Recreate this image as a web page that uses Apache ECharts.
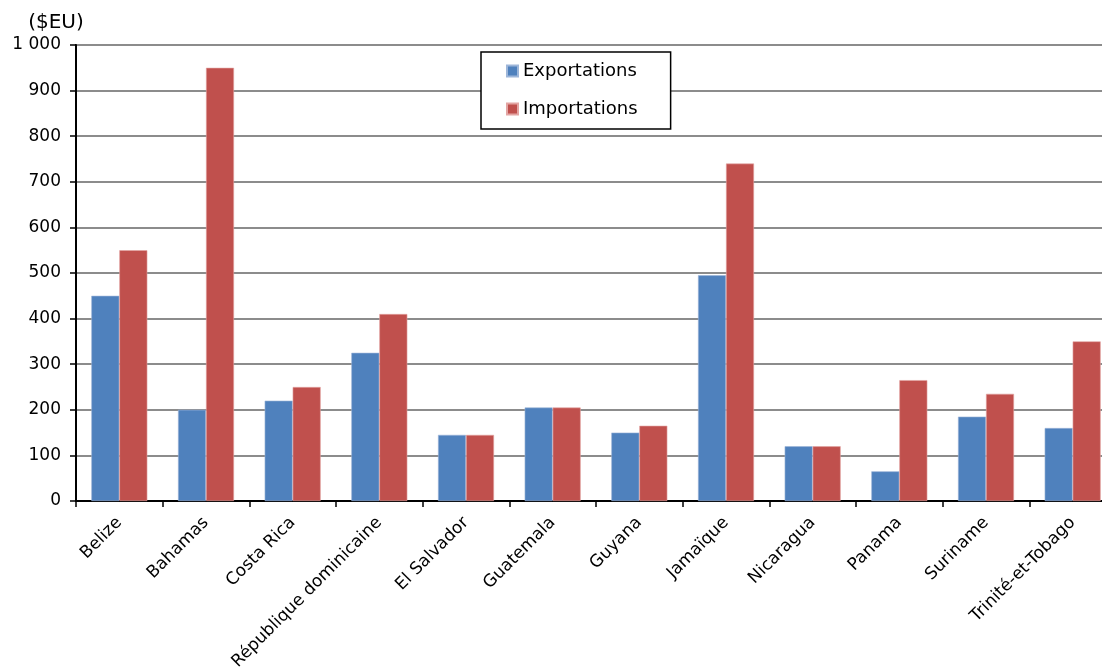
<!DOCTYPE html>
<html><head><meta charset="utf-8">
<script src="https://cdn.jsdelivr.net/npm/echarts@6/dist/echarts.min.js"></script>
<style>html,body{margin:0;padding:0;background:#fff;overflow:hidden;width:1102px;height:667px}#c{width:1120px;height:667px}</style>
</head><body><div id="c"></div>
<script>
const categories = ["Belize","Bahamas","Costa Rica","République dominicaine","El Salvador","Guatemala","Guyana","Jamaïque","Nicaragua","Panama","Suriname","Trinité-et-Tobago"];
const exportations = [450,200,220,325,145,205,150,495,120,65,185,160];
const importations = [550,950,250,410,145,205,165,740,120,265,235,350];
const seriesNames = ["Exportations","Importations"];
const yTitle = "($EU)";

const font = "DejaVu Sans, Verdana, sans-serif";
const chart = echarts.init(document.getElementById('c'), null, {renderer:'canvas'});
chart.setOption({
  animation:false,
  textStyle:{fontFamily:font},
  grid:{left:76,right:4,top:45,height:456,containLabel:false,outerBoundsMode:'none',
        show:true,borderColor:'#000',borderWidth:2,backgroundColor:'transparent'},
  legend:{
    data:seriesNames, orient:'vertical', left:481, top:52,
    padding:[10,33,11,25], itemGap:20, itemWidth:11, itemHeight:11, icon:'rect',
    borderColor:'#000', borderWidth:1.5, backgroundColor:'#fff',
    textStyle:{fontFamily:font,fontSize:18,color:'#000'}
  },
  xAxis:{
    type:'category', data:categories,
    axisLine:{lineStyle:{color:'#000',width:2}},
    axisTick:{show:true,length:6,lineStyle:{color:'#000',width:1.5}},
    axisLabel:{rotate:45,interval:0,fontFamily:font,fontSize:17,color:'#000',margin:19}
  },
  yAxis:{
    type:'value', min:0, max:1000, interval:100,
    name:yTitle, nameLocation:'end', nameGap:12,
    nameTextStyle:{fontFamily:font,fontSize:20,color:'#000',align:'center',padding:[0,0,0,-40]},
    axisLine:{show:true,lineStyle:{color:'#000',width:2}},
    axisTick:{show:true,length:6,lineStyle:{color:'#000',width:1.5}},
    axisLabel:{fontFamily:font,fontSize:17,color:'#000',margin:15,
      formatter:v=>String(v).replace(/\B(?=(\d{3})+(?!\d))/g,' ')},
    splitLine:{lineStyle:{color:'#8c8c8c',width:2}}
  },
  series:[
    {name:seriesNames[0],type:'bar',data:exportations,barWidth:28,barGap:'0%',
     itemStyle:{color:'#4F81BD',borderColor:'#9db6d9',borderWidth:0.6}},
    {name:seriesNames[1],type:'bar',data:importations,barWidth:28,
     itemStyle:{color:'#C0504D',borderColor:'#e3a5a3',borderWidth:0.6}}
  ]
});
</script></body></html>
